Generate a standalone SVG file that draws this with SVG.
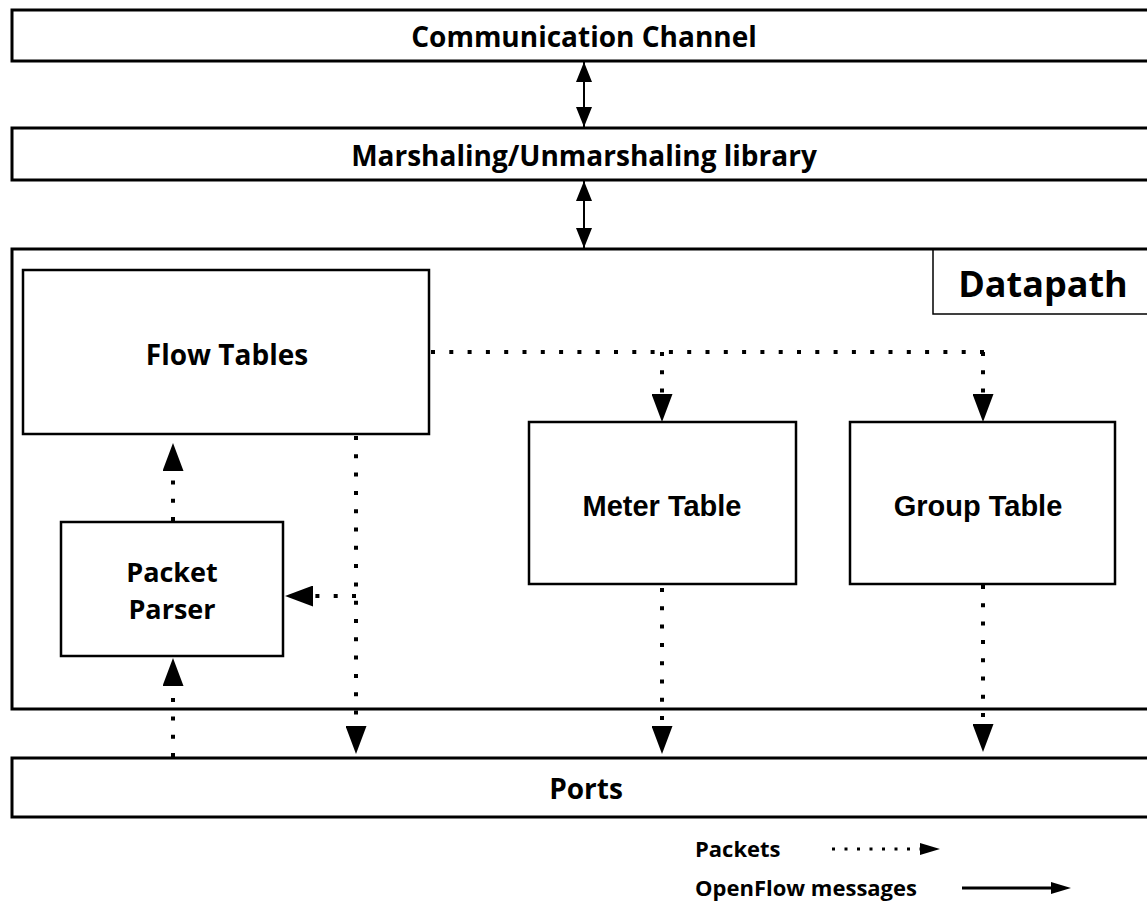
<svg xmlns="http://www.w3.org/2000/svg" width="1147" height="901" viewBox="0 0 1147 901">
<style>
.box{fill:#fff;stroke:#000;stroke-width:3}
.inner{fill:#fff;stroke:#000;stroke-width:2.5}
.lbl{fill:none;stroke:#000;stroke-width:1.5}
.t{font-family:"Open Sans","Noto Sans",sans-serif;font-weight:bold;font-size:28px;fill:#000;text-anchor:middle}
.ta{font-family:"Liberation Sans",Arial,sans-serif;font-weight:bold;font-size:29px;fill:#000;text-anchor:middle}
.dot{fill:none;stroke:#000;stroke-width:4;stroke-dasharray:4 14.3}
.solid{fill:none;stroke:#000;stroke-width:2}
.leg{font-family:"Open Sans","Noto Sans",sans-serif;font-weight:bold;font-size:22px;fill:#000}
</style>
<defs>
<marker id="ah" markerUnits="userSpaceOnUse" markerWidth="28" markerHeight="21" refX="0" refY="10.5" orient="auto" viewBox="0 0 28 21">
<path d="M0,0 L28,10.5 L0,21 z" fill="#000"/>
</marker>
<marker id="sh" markerUnits="userSpaceOnUse" markerWidth="20" markerHeight="16" refX="20" refY="8" orient="auto-start-reverse" viewBox="0 0 20 16">
<path d="M0,0 L20,8 L0,16 z" fill="#000"/>
</marker>
<marker id="lh" markerUnits="userSpaceOnUse" markerWidth="20" markerHeight="12" refX="0" refY="6" orient="auto" viewBox="0 0 20 12">
<path d="M0,0 L20,6 L0,12 z" fill="#000"/>
</marker>
</defs>
<rect width="1147" height="901" fill="#fff"/>
<g id="comm-channel">
<rect class="box" x="12" y="10" width="1160" height="51"/>
<text class="t" x="584" y="47">Communication Channel</text>
</g>
<g id="marshaling">
<rect class="box" x="12" y="128" width="1160" height="52"/>
<text class="t" x="584" y="166">Marshaling/Unmarshaling library</text>
</g>
<g id="datapath">
<rect class="box" x="12" y="249" width="1160" height="460"/>
<rect class="lbl" x="933" y="249" width="240" height="65"/>
<text class="t" x="1043" y="297" style="font-size:36px">Datapath</text>
</g>
<g id="flow-tables">
<rect class="inner" x="23" y="270" width="406" height="164"/>
<text class="t" x="227" y="365">Flow Tables</text>
</g>
<g id="packet-parser">
<rect class="inner" x="61" y="522" width="222" height="134"/>
<text class="t" x="172" y="582" style="font-size:27px">Packet</text>
<text class="t" x="172" y="619" style="font-size:27px">Parser</text>
</g>
<g id="meter-table">
<rect class="inner" x="529" y="422" width="267" height="162"/>
<text class="ta" x="662" y="516">Meter Table</text>
</g>
<g id="group-table">
<rect class="inner" x="850" y="422" width="265" height="162"/>
<text class="ta" x="978" y="516">Group Table</text>
</g>
<g id="ports">
<rect class="box" x="12" y="758" width="1160" height="59"/>
<text class="t" x="586" y="799">Ports</text>
</g>
<g id="connectors">
<line class="solid" x1="584" y1="62" x2="584" y2="127" marker-start="url(#sh)" marker-end="url(#sh)"/>
<line class="solid" x1="584" y1="181" x2="584" y2="248" marker-start="url(#sh)" marker-end="url(#sh)"/>
<path class="dot" d="M431 352 H985"/>
<path class="dot" d="M662 352 V394" marker-end="url(#ah)"/>
<path class="dot" d="M983 352 V394" marker-end="url(#ah)"/>
<path class="dot" d="M356 436 V726" marker-end="url(#ah)"/>
<path class="dot" d="M356 596 H313" marker-end="url(#ah)"/>
<path class="dot" d="M173 521 V471" marker-end="url(#ah)"/>
<path class="dot" d="M173 757 V686" marker-end="url(#ah)"/>
<path class="dot" d="M662 588 V726" marker-end="url(#ah)"/>
<path class="dot" d="M983 585 V724" marker-end="url(#ah)"/>
</g>
<g id="legend">
<text class="leg" x="695" y="857">Packets</text>
<path d="M832 849 H920" fill="none" stroke="#000" stroke-width="3" stroke-dasharray="3 9.5" marker-end="url(#lh)"/>
<text class="leg" x="695" y="896">OpenFlow messages</text>
<line x1="962" y1="888" x2="1051" y2="888" stroke="#000" stroke-width="3" marker-end="url(#lh)"/>
</g>
</svg>
